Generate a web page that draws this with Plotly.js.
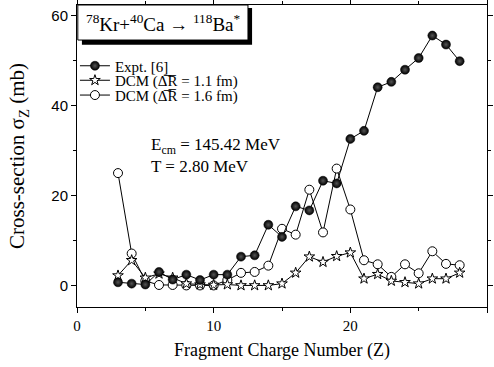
<!DOCTYPE html>
<html>
<head>
<meta charset="utf-8">
<script src="https://cdn.plot.ly/plotly-3.0.1.min.js"></script>
<style>html,body{margin:0;padding:0;background:#fff;}#chart{width:494px;height:367px;}</style>
</head>
<body>
<div id="chart"></div>
<script>
const Z = [3,4,5,6,7,8,9,10,11,12,13,14,15,16,17,18,19,20,21,22,23,24,25,26,27,28];
const expt = [0.7,0.4,0.2,3.0,1.3,2.4,1.2,2.4,2.4,6.4,6.7,13.5,10.8,17.6,16.7,23.3,22.7,32.6,34.4,44.1,45.3,48.0,50.6,55.6,53.6,49.9];
const dcm11 = [2.2,5.6,1.7,2.6,1.7,0.4,0.2,0.1,0.2,0.0,0.0,0.0,0.4,2.8,6.4,5.2,6.5,7.3,1.5,2.5,1.0,0.7,0.4,1.5,1.5,2.8];
const dcm16 = [25.0,7.1,1.0,0.1,0.1,0.0,0.0,0.0,1.2,2.8,3.0,4.4,12.6,11.3,21.3,11.8,26.0,16.9,5.6,4.7,1.9,4.7,2.7,7.6,4.8,4.5];
const names = ['Expt. [6]', 'DCM (Δ\u0305R\u0305 = 1.1 fm)', 'DCM (Δ\u0305R\u0305 = 1.6 fm)'];
const xTicks = [0,10,20,30];
const yTicks = [0,20,40,60];

const serif = '"Liberation Serif", "Times New Roman", serif';
const sans = '"Liberation Sans", Arial, sans-serif';

const traces = [
  {x: Z, y: dcm16, name: names[2], legend: 'legend3', mode: 'lines+markers', type: 'scatter',
   line: {color: '#000', width: 1},
   marker: {symbol: 'circle', size: 9, color: '#fff', line: {color: '#000', width: 1}}},
  {x: Z, y: dcm11, name: names[1], legend: 'legend2', mode: 'lines+markers', type: 'scatter',
   line: {color: '#000', width: 1},
   marker: {symbol: 'star', size: 8, color: '#fff', line: {color: '#000', width: 1}}},
  {x: Z, y: expt, name: names[0], legend: 'legend', mode: 'lines+markers', type: 'scatter',
   line: {color: '#000', width: 1},
   marker: {symbol: 'circle', size: 9, color: '#000', line: {color: '#000', width: 0.5},
            gradient: {type: 'radial', color: '#555'}}}
];

const legFont = {family: serif, size: 15, color: '#000'};
function leg(y) {
  return {x: -0.005, y: y, xanchor: 'left', yanchor: 'middle', font: legFont,
          bgcolor: 'rgba(0,0,0,0)', borderwidth: 0};
}

const layout = {
  width: 494, height: 367,
  margin: {l: 77, r: 7, t: 5, b: 60},
  paper_bgcolor: '#fff', plot_bgcolor: '#fff',
  showlegend: true,
  legend: leg(0.798),
  legend2: leg(0.750),
  legend3: leg(0.701),
  xaxis: {range: [0, 30], tickvals: xTicks, ticktext: xTicks.map(String),
          ticks: 'outside', ticklen: 5, tickwidth: 1, tickcolor: '#000',
          minor: {dtick: 5, ticks: 'outside', ticklen: 3, tickcolor: '#000'},
          showline: true, linecolor: '#000', linewidth: 1, mirror: 'allticks',
          showgrid: false, zeroline: false,
          tickfont: {family: serif, size: 15, color: '#000'},
          title: {text: 'Fragment Charge Number (Z)', font: {family: serif, size: 18, color: '#000'}, standoff: 10}},
  yaxis: {range: [-4.8, 62.4], tickvals: yTicks, ticktext: yTicks.map(String),
          ticks: 'outside', ticklen: 5, tickwidth: 1, tickcolor: '#000',
          minor: {dtick: 10, ticks: 'outside', ticklen: 3, tickcolor: '#000'},
          showline: true, linecolor: '#000', linewidth: 1, mirror: 'allticks',
          showgrid: false, zeroline: false,
          tickfont: {family: sans, size: 15, color: '#000'},
          title: {text: 'Cross-section σ<sub>Z</sub> (mb)', font: {family: serif, size: 21, color: '#000'}, standoff: 20}},
  shapes: [
    {type: 'rect', xref: 'paper', yref: 'paper', x0: 0.012, x1: 0.427, y0: 0.868, y1: 0.99,
     fillcolor: '#000', line: {width: 0}, layer: 'above'},
    {type: 'rect', xref: 'paper', yref: 'paper', x0: 0.002, x1: 0.417, y0: 0.884, y1: 1.0,
     fillcolor: '#fff', line: {color: '#000', width: 1}, layer: 'above'}
  ],
  annotations: [
    {xref: 'paper', yref: 'paper', x: 0.21, y: 0.942, xanchor: 'center', yanchor: 'middle', showarrow: false,
     text: '<sup>78</sup>Kr+<sup>40</sup>Ca → <sup>118</sup>Ba<sup>*</sup>',
     font: {family: serif, size: 19, color: '#000'}},
    {xref: 'paper', yref: 'paper', x: 0.175, y: 0.532, xanchor: 'left', yanchor: 'middle', showarrow: false,
     text: 'E<sub>cm</sub> = 145.42 MeV', font: {family: serif, size: 17, color: '#000'}},
    {xref: 'paper', yref: 'paper', x: 0.175, y: 0.464, xanchor: 'left', yanchor: 'middle', showarrow: false,
     text: 'T = 2.80 MeV', font: {family: serif, size: 17, color: '#000'}}
  ]
};

Plotly.newPlot('chart', traces, layout, {staticPlot: true, displayModeBar: false});
</script>
</body>
</html>
